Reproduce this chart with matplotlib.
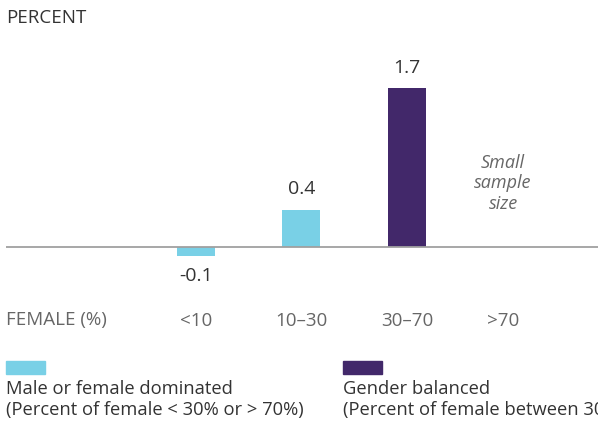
import matplotlib
matplotlib.use('Agg')
import matplotlib.pyplot as plt
import matplotlib.transforms as mtransforms
from matplotlib.patches import Rectangle
import numpy as np

# Chart data
categories = ['<10', '10\u201330', '30\u201370', '>70']
values = [-0.1, 0.4, 1.7, None]
value_labels = ['-0.1', '0.4', '1.7', '']
groups = ['dominated', 'dominated', 'balanced', None]
legend_titles = ['Male or female dominated', 'Gender balanced']
legend_notes = ['(Percent of female < 30% or > 70%)',
                '(Percent of female between 30% and 70%)']

cyan = '#79D0E6'
purple = '#42286A'
colors = {'dominated': cyan, 'balanced': purple}

plt.rcParams['font.family'] = ['Open Sans', 'DejaVu Sans']

W, H = 598, 421
fig = plt.figure(figsize=(W / 100, H / 100), dpi=100)

def fx(px):
    return px / W

def fy(py):
    return 1 - py / H

# Axes placed in pixel terms: left 6px, right edge, top 40px, bottom 300px
ax = fig.add_axes([fx(6), fy(300), 1 - fx(6), fy(40) - fy(300)])

x = np.arange(len(categories))
for xi, v, g, lab in zip(x, values, groups, value_labels):
    if v is None:
        continue
    ax.bar(xi, v, width=0.36, color=colors[g], zorder=2)
    if v >= 0:
        ax.annotate(lab, (xi, v), xytext=(0, 8), textcoords='offset points',
                    ha='center', va='bottom', fontsize=14, color='#333333')
    else:
        ax.annotate(lab, (xi, v), xytext=(0, -8), textcoords='offset points',
                    ha='center', va='top', fontsize=14, color='#333333')

# Small sample note for the last category
ax.text(x[-1] - 0.09, 0.68, 'Small\nsample\nsize', ha='center', va='center',
        fontsize=13, style='italic', color='#666666', linespacing=1.15)

ax.axhline(0, color='#A0A0A0', lw=1.3, zorder=3)

ax.set_xlim(-1.80, 3.81)
ax.set_ylim(-0.567, 2.214)
ax.set_xticks(x)
ax.set_xticklabels(categories, fontsize=13.5, color='#666666')
ax.tick_params(axis='x', length=0, pad=9)
ax.set_yticks([])
for s in ax.spines.values():
    s.set_visible(False)

# the last label sits a little left of its slot in the original
last = ax.get_xticklabels()[-1]
last.set_transform(last.get_transform() +
                   mtransforms.ScaledTranslation(-0.09, 0, fig.dpi_scale_trans))

fig.text(fx(6), fy(18), 'PERCENT', ha='left', va='center', fontsize=13.5, color='#333333')
fig.text(fx(6), fy(320), 'FEMALE (%)', ha='left', va='center', fontsize=13.5, color='#666666')

# Legend: swatch above two lines of text
for lx, col, title, note in zip([6, 343], [cyan, purple], legend_titles, legend_notes):
    fig.add_artist(Rectangle((fx(lx), fy(374)), fx(39), fy(361) - fy(374),
                             transform=fig.transFigure, color=col))
    fig.text(fx(lx), fy(389), title, ha='left', va='center', fontsize=13.2, color='#333333')
    fig.text(fx(lx), fy(410), note, ha='left', va='center', fontsize=13.2, color='#333333')

fig.savefig('out.png', dpi=100)
